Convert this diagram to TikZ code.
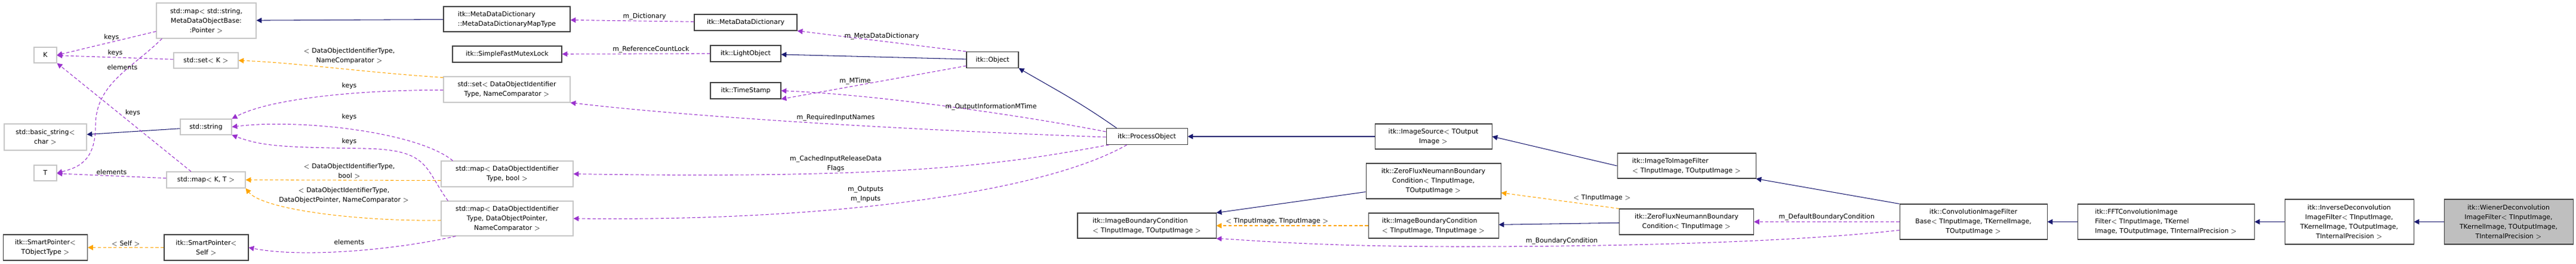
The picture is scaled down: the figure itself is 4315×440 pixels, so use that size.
\documentclass[tikz,border=0pt]{standalone}
\usepackage{fontspec}
\setmainfont{DejaVu Sans}
\usetikzlibrary{arrows.meta}
\definecolor{inhcol}{HTML}{191970}
\definecolor{usecol}{HTML}{9A32CD}
\definecolor{tplcol}{HTML}{FFA500}
\tikzset{
  cls/.style={draw=black!75,line width=0.6pt,inner sep=0pt,font=\fontsize{6.2}{9.1}\selectfont,align=center},
  ext/.style={cls,draw=black!22},
  sz/.style 2 args={minimum width=#1*0.02cm,minimum height=#2*0.02cm},
  tip/.style={-{Triangle[length=5pt,width=5pt]}},
  inh/.style={tip,draw=inhcol,line width=0.6pt},
  use/.style={tip,draw=usecol,dash pattern=on 3pt off 2pt,line width=0.6pt},
  tpl/.style={tip,draw=tplcol,dash pattern=on 3pt off 2pt,line width=0.6pt},
  lab/.style={font=\fontsize{6.2}{9.1}\selectfont,align=center,inner sep=1pt}
}
\begin{document}
\begin{tikzpicture}[x=0.02cm,y=-0.02cm]
  \useasboundingbox (0,0) rectangle (4315,440);
  %std-klasser
  \node[ext,sz={167}{59}] (mapstrmeta) at (345.5,34.5) {std::map$<$ std::string,\\ MetaDataObjectBase:\\ :Pointer $>$};
  \node[ext,sz={38}{26}] (K) at (76,92) {K};
  \node[ext,sz={108}{26}] (setK) at (345,101) {std::set$<$ K $>$};
  \node[ext,sz={138}{44}] (basicstr) at (76,229) {std::basic\_string$<$\\ char $>$};
  \node[ext,sz={86}{26}] (stdstr) at (345,212) {std::string};
  \node[ext,sz={38}{26}] (T) at (76,289) {T};
  \node[ext,sz={132}{27}] (mapKT) at (345,300.5) {std::map$<$ K, T $>$};
  \node[cls,sz={141}{43}] (spTObj) at (76,413.5) {itk::SmartPointer$<$\\ TObjectType $>$};
  \node[cls,sz={141}{43}] (spSelf) at (345.5,413.5) {itk::SmartPointer$<$\\ Self $>$};
  %itk-klasser midten
  \node[cls,sz={212}{42},align=left] (mddmap) at (849,32) {itk::MetaDataDictionary\\ ::MetaDataDictionaryMapType};
  \node[cls,sz={172}{27}] (mdd) at (1249,37.5) {itk::MetaDataDictionary};
  \node[cls,sz={183}{27}] (mutex) at (849.5,90.5) {itk::SimpleFastMutexLock};
  \node[cls,sz={118}{27}] (lightobj) at (1249,89.5) {itk::LightObject};
  \node[ext,sz={212}{43}] (setdoi) at (849,149.5) {std::set$<$ DataObjectIdentifier\\ Type, NameComparator $>$};
  \node[cls,sz={118}{27}] (tstamp) at (1249,151.5) {itk::TimeStamp};
  \node[ext,sz={221}{43}] (mapdoibool) at (849.5,290.5) {std::map$<$ DataObjectIdentifier\\ Type, bool $>$};
  \node[ext,sz={221}{58}] (mapdoiptr) at (849.5,365) {std::map$<$ DataObjectIdentifier\\ Type, DataObjectPointer,\\ NameComparator $>$};
  \node[cls,sz={87}{27}] (object) at (1662.5,100) {itk::Object};
  \node[cls,sz={136}{27}] (procobj) at (1921,228) {itk::ProcessObject};
  \node[cls,sz={232}{42},align=left] (ibcio) at (1921,377) {itk::ImageBoundaryCondition\\ $<$ TInputImage, TOutputImage $>$};
  %filter-kjeden
  \node[cls,sz={196}{42}] (imgsrc) at (2401,228) {itk::ImageSource$<$ TOutput\\ Image $>$};
  \node[cls,sz={226}{59}] (zfio) at (2401,302.5) {itk::ZeroFluxNeumannBoundary\\ Condition$<$ TInputImage,\\ TOutputImage $>$};
  \node[cls,sz={218}{42},align=left] (ibcii) at (2401,377) {itk::ImageBoundaryCondition\\ $<$ TInputImage, TInputImage $>$};
  \node[cls,sz={232}{42},align=left] (i2i) at (2825,277) {itk::ImageToImageFilter\\ $<$ TInputImage, TOutputImage $>$};
  \node[cls,sz={225}{43}] (zfi) at (2825,370.5) {itk::ZeroFluxNeumannBoundary\\ Condition$<$ TInputImage $>$};
  \node[cls,sz={247}{59}] (conv) at (3305.5,370.5) {itk::ConvolutionImageFilter\\ Base$<$ TInputImage, TKernelImage,\\ TOutputImage $>$};
  \node[cls,sz={296}{59},align=left] (fft) at (3628,370.5) {itk::FFTConvolutionImage\\ Filter$<$ TInputImage, TKernel\\ Image, TOutputImage, TInternalPrecision $>$};
  \node[cls,sz={216}{75}] (inverse) at (3935,370.5) {itk::InverseDeconvolution\\ ImageFilter$<$ TInputImage,\\ TKernelImage, TOutputImage,\\ TInternalPrecision $>$};
  \node[cls,sz={216}{75},fill=black!25] (wiener) at (4202,370.5) {itk::WienerDeconvolution\\ ImageFilter$<$ TInputImage,\\ TKernelImage, TOutputImage,\\ TInternalPrecision $>$};

  %arv
  \draw[inh] (mddmap) -- (mapstrmeta);
  \draw[inh] (object) -- (lightobj);
  \draw[inh] (procobj.north west) ++(18,0) to[out=145,in=-30] (object.south east);
  \draw[inh] (imgsrc) -- (procobj);
  \draw[inh] (i2i.west) -- (imgsrc.east);
  \draw[inh] (conv.north west) -- (i2i.south east);
  \draw[inh] (fft) -- (conv);
  \draw[inh] (inverse) -- (fft);
  \draw[inh] (wiener) -- (inverse);
  \draw[inh] (stdstr) -- (basicstr);
  \draw[inh] (zfio.west) ++(0,18) -- (ibcio.north east);
  \draw[inh] (zfi) -- (ibcii);

  %bruk
  \draw[use] (mapstrmeta.west) ++(0,18) -- node[lab,above,pos=0.45]{keys} (K.east);
  \draw[use] (mapstrmeta.south west) ++(10,0) .. controls (220,115) and (160,140) .. (160,210) .. controls (160,270) and (130,280) .. (T.east);
  \node[lab] at (205,112) {elements};
  \draw[use] (setK) -- node[lab,above,pos=0.5]{keys} (K);
  \draw[use] (mapKT.north) ++(-25,0) -- node[lab,pos=0.5,above right]{keys} (K.south east);
  \draw[use] (mapKT) -- node[lab,above,pos=0.5]{elements} (T);
  \draw[use] (setdoi.west) ++(0,1) .. controls (600,150) and (450,165) .. (stdstr.north east);
  \node[lab] at (585,143) {keys};
  \draw[use] (mapdoibool.north west) ++(20,0) .. controls (700,220) and (500,198) .. (stdstr.east);
  \node[lab] at (585,195) {keys};
  \draw[use] (mapdoiptr.north west) ++(12,0) .. controls (710,280) and (720,250) .. (610,248) .. controls (480,246) and (440,245) .. (stdstr.south east);
  \node[lab] at (585,236) {keys};
  \draw[use] (mapdoiptr.south west) ++(25,0) .. controls (650,420) and (500,430) .. (spSelf.east);
  \node[lab] at (585,404) {elements};
  \draw[use] (mdd) -- node[lab,above,pos=0.4]{m\_Dictionary} (mddmap);
  \draw[use] (lightobj) -- node[lab,above,pos=0.4]{m\_ReferenceCountLock} (mutex);
  \draw[use] (object.north west) -- node[lab,above,pos=0.5]{m\_MetaDataDictionary} (mdd.south east);
  \draw[use] (object.south west) ++(0,-4) -- node[lab,above,pos=0.6]{m\_MTime} (tstamp.south east);
  \draw[use] (procobj.west) ++(0,-8) .. controls (1750,200) and (1500,160) .. (tstamp.east);
  \node[lab] at (1660,179) {m\_OutputInformationMTime};
  \draw[use] (procobj.west) ++(0,1) .. controls (1600,220) and (1200,200) .. (setdoi.south east);
  \node[lab] at (1400,197) {m\_RequiredInputNames};
  \draw[use] (procobj.south west) ++(5,0) .. controls (1700,270) and (1550,300) .. (mapdoibool.east);
  \node[lab] at (1400,273) {m\_CachedInputReleaseData\\ Flags};
  \draw[use] (procobj.south west) ++(35,0) .. controls (1750,320) and (1400,370) .. (mapdoiptr.east);
  \node[lab] at (1450,325) {m\_Outputs\\ m\_Inputs};
  \draw[use] (conv.west) -- node[lab,above,pos=0.5]{m\_DefaultBoundaryCondition} (zfi.east);
  \draw[use] (conv.west) ++(0,14) .. controls (3000,405) and (2700,412) .. (2450,412) .. controls (2200,412) and (2080,400) .. (ibcio.south east);
  \node[lab] at (2616,403) {m\_BoundaryCondition};

  %templates
  \draw[tpl] (setdoi.west) ++(0,-20) .. controls (600,120) and (500,105) .. (setK.east);
  \node[lab] at (585,93) {$<$ DataObjectIdentifierType,\\ NameComparator $>$};
  \draw[tpl] (mapdoibool.west) ++(0,11) -- (mapKT.east);
  \node[lab] at (585,286) {$<$ DataObjectIdentifierType,\\ bool $>$};
  \draw[tpl] (mapdoiptr.west) ++(0,3) .. controls (600,370) and (440,350) .. (mapKT.south east);
  \node[lab] at (576,326) {$<$ DataObjectIdentifierType,\\ DataObjectPointer, NameComparator $>$};
  \draw[tpl] (spSelf) -- node[lab,above,pos=0.5]{$<$ Self $>$} (spTObj);
  \draw[tpl] (zfi.north west) -- node[lab,above right,pos=0.4]{$<$ TInputImage $>$} (zfio.east |- 322,322);
  \draw[tpl] (ibcii) -- node[lab,above,pos=0.6]{$<$ TInputImage, TInputImage $>$} (ibcio);
\end{tikzpicture}
\end{document}
